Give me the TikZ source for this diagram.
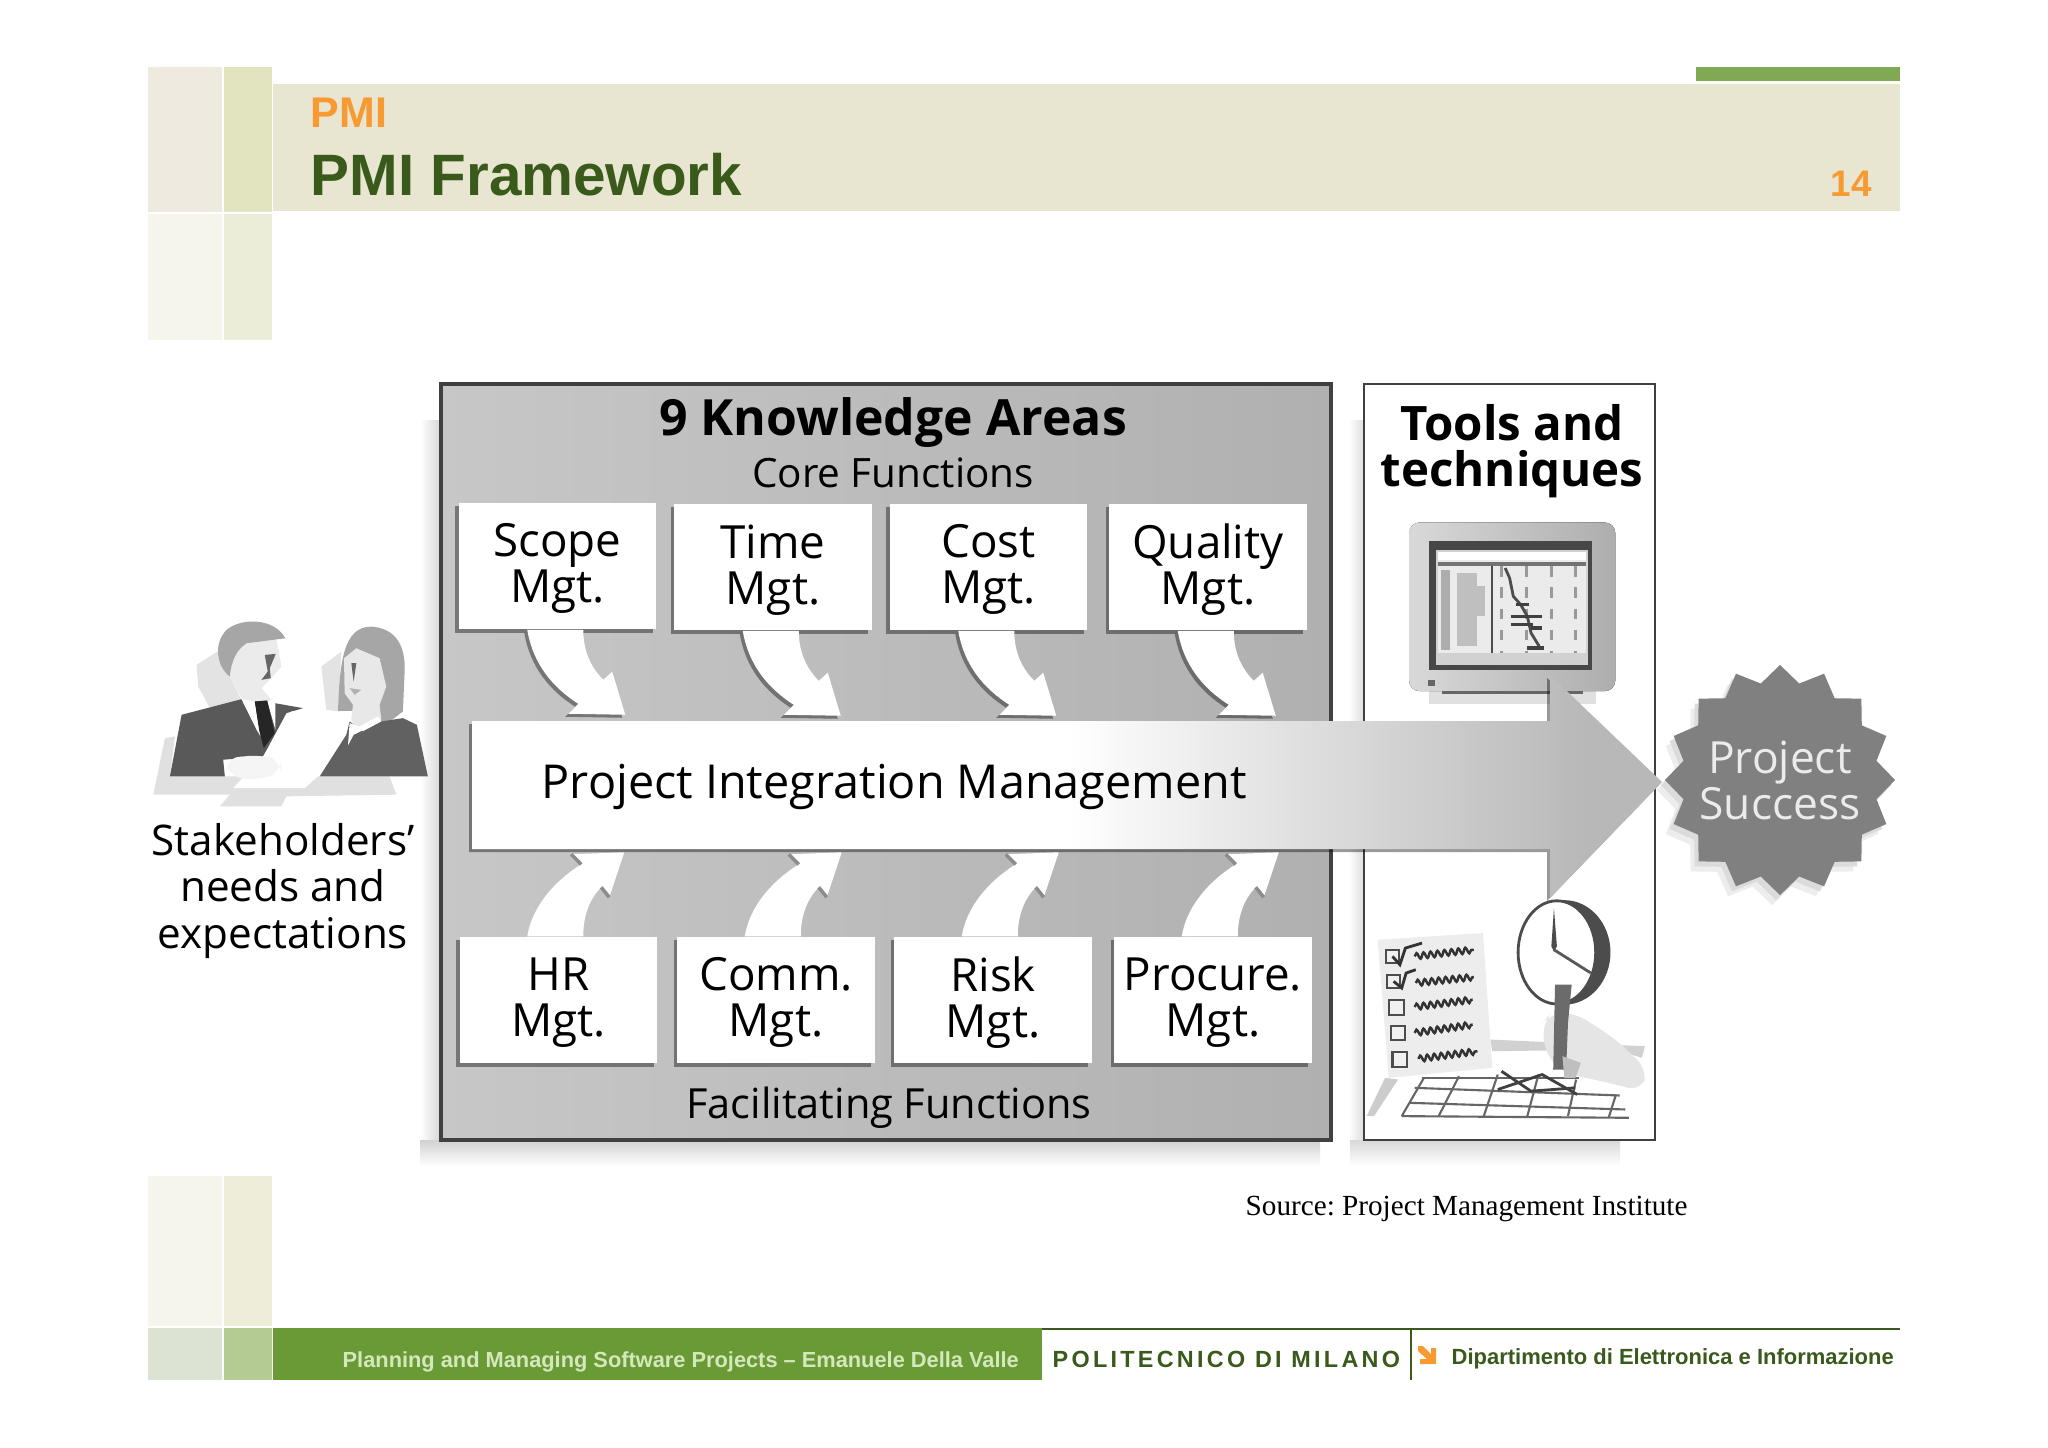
\documentclass[tikz,border=0pt]{standalone}
\usepackage{fontspec}
\setmainfont{Open Sans}
\newfontfamily\slidefont{Liberation Sans}
\newfontfamily\sourcefont{Liberation Serif}
\newfontfamily\polifont[LetterSpace=14]{Liberation Sans}
\usetikzlibrary{shapes.geometric,shadows,decorations.pathmorphing}
\definecolor{bandcolor}{HTML}{E8E5D1}
\definecolor{leafgreen}{HTML}{6A9A36}
\definecolor{titlegreen}{HTML}{3A5A1C}
\definecolor{titleorange}{HTML}{F79A32}
\definecolor{footertext}{HTML}{D4E8BC}
\pgfdeclarehorizontalshading{arrowfade}{100bp}{color(0bp)=(white); color(50bp)=(white); color(72bp)=(black!28); color(100bp)=(black!28)}
\tikzstyle{mgtbox} = [fill=white, align=center, inner sep=0pt, text depth=1.5pt, minimum width=1.97cm, minimum height=1.26cm, font=\fontsize{13pt}{13.1pt}\selectfont, drop shadow={shadow xshift=-0.035cm, shadow yshift=-0.035cm, opacity=0.4, fill=black}]
\tikzstyle{booktext} = [align=center, inner sep=0pt, font=\fontsize{12pt}{13.1pt}\selectfont]
\tikzstyle{headtext} = [align=center, inner sep=0pt, font=\bfseries\fontsize{14.2pt}{13.2pt}\selectfont]
\tikzstyle{flowshadow} = [drop shadow={shadow xshift=-0.03cm, shadow yshift=-0.03cm, opacity=0.4, fill=black}]
\tikzstyle{scribble} = [line width=0.7pt, black!80, decorate, decoration={snake, amplitude=0.03cm, segment length=0.07cm}]
\tikzstyle{tickbox} = [draw=black!70, line width=0.6pt, fill=black!6]
\tikzstyle{sealstar} = [star, star points=16, star point ratio=1.17, minimum size=2.3cm, inner sep=0pt]
\tikzset{
  pics/coreflow/.style={code={
    \fill[white,flowshadow] (69,0) .. controls (75,35) and (95,58) .. (120,74) -- (110,84) -- (167,85) -- (154,42) -- (145,50) .. controls (133,38) and (125,22) .. (125,0) -- cycle;
  }},
  pics/facilflow/.style={code={
    \fill[white] (68,0) .. controls (73,-30) and (95,-55) .. (122,-72) -- (112,-82) -- (165,-84) -- (150,-39) -- (142,-49) .. controls (130,-37) and (124,-20) .. (124,0) -- cycle;
    \draw[black!45,line width=1pt] (112,-82) -- (122,-72);
    \draw[black!45,line width=1pt] (150,-39) -- (142,-49);
  }}
}

\begin{document}
\frenchspacing
\begin{tikzpicture}[x=0.01cm,y=-0.01cm]
\useasboundingbox (0,0) rectangle (2048,1447);
\fill[white] (0,0) rectangle (2048,1447);
\fill[bandcolor] (273,84) rectangle (1900,211);
\fill[leafgreen!85] (1696,67) rectangle (1900,81);
\fill[color={rgb,255:red,238;green,234;blue,223}] (148,67) rectangle (222,212);
\fill[color={rgb,255:red,226;green,227;blue,191}] (224,67) rectangle (272,212);
\fill[color={rgb,255:red,246;green,245;blue,235}] (148,214) rectangle (222,340);
\fill[color={rgb,255:red,236;green,237;blue,216}] (224,214) rectangle (272,340);
\fill[color={rgb,255:red,246;green,245;blue,235}] (148,1176) rectangle (222,1326);
\fill[color={rgb,255:red,238;green,237;blue,217}] (224,1176) rectangle (272,1326);
\fill[color={rgb,255:red,220;green,227;blue,211}] (148,1328) rectangle (222,1380);
\fill[color={rgb,255:red,181;green,203;blue,148}] (224,1328) rectangle (272,1380);
\fill[leafgreen] (273,1328) rectangle (1042,1380);
\draw[titlegreen,line width=0.8pt] (1042,1329) -- (1900,1329);
\draw[titlegreen,line width=0.6pt] (1411,1329) -- (1411,1380);
\fill[titleorange] (1418,1346) -- (1423,1346) -- (1431,1354) -- (1431,1348) -- (1436,1348) -- (1436,1364) -- (1420,1364) -- (1420,1359) -- (1427,1359) -- (1418,1351) -- cycle;
\node[anchor=base west,inner sep=0pt,text=titleorange,font=\slidefont\bfseries\fontsize{12.2pt}{14pt}\selectfont] (section) at (310,127) {PMI};
\node[anchor=base west,inner sep=0pt,text=titlegreen,font=\slidefont\bfseries\fontsize{16.6pt}{18pt}\selectfont] (title) at (310,195) {PMI Framework};
\node[inner sep=0pt,text=titleorange,font=\slidefont\bfseries\fontsize{10.5pt}{12pt}\selectfont] (pagenum) at (1851,184) {14};
\node[anchor=west,inner sep=0pt,text=footertext,font=\slidefont\bfseries\fontsize{6.2pt}{8pt}\selectfont] (course) at (342,1362) {Planning and Managing Software Projects – Emanuele Della Valle};
\node[anchor=west,inner sep=0pt,text=titlegreen,font=\polifont\bfseries\fontsize{6.65pt}{8pt}\selectfont] (poli) at (1052,1359) {POLITECNICO DI MILANO};
\node[anchor=west,inner sep=0pt,text=titlegreen,font=\slidefont\bfseries\fontsize{6.25pt}{8pt}\selectfont] (dept) at (1451,1359) {Dipartimento di Elettronica e Informazione};
\node[anchor=west,inner sep=0pt,font=\sourcefont\fontsize{8.3pt}{10pt}\selectfont] (source) at (1245,1209) {Source: Project Management Institute};
\shade[left color=white,right color=black!16] (420,420) rectangle (441,1140);
\shade[top color=black!18,bottom color=white] (420,1140) rectangle (1320,1166);
\shade[left color=white,right color=black!13] (1348,420) rectangle (1364,1140);
\shade[top color=black!15,bottom color=white] (1350,1140) rectangle (1620,1166);
\draw[black!75,line width=1pt,left color=black!22,right color=black!31] (441,384) rectangle (1331,1140);
\draw[black!75,line width=0.8pt,fill=white] (1364,384) rectangle (1655,1140);
\node[headtext] (areas) at (893,423) {9 Knowledge Areas};
\node[booktext,font=\fontsize{11.5pt}{13pt}\selectfont] (core) at (893,473) {Core Functions};
\node[booktext,font=\fontsize{11.8pt}{13pt}\selectfont] (facil) at (889,1108) {Facilitating Functions};
\node[headtext,font=\bfseries\fontsize{13.5pt}{13.2pt}\selectfont] (tools) at (1512,451) {Tools and\\techniques};
\node[booktext] (stake) at (283,891) {Stakeholders'\\needs and\\expectations};
\node[mgtbox] (scope) at (557.5,566) {Scope\\Mgt.};
\node[mgtbox] (time) at (773,567) {Time\\Mgt.};
\node[mgtbox] (cost) at (988.5,567) {Cost\\Mgt.};
\node[mgtbox] (quality) at (1208,567) {Quality\\Mgt.};
\node[mgtbox] (hr) at (558.5,1000) {HR\\Mgt.};
\node[mgtbox] (comm) at (776,1000) {Comm.\\Mgt.};
\node[mgtbox] (risk) at (993,1000) {Risk\\Mgt.};
\node[mgtbox] (procure) at (1213,1000) {Procure.\\Mgt.};
\pic at (scope.south west) {coreflow};
\pic at (time.south west) {coreflow};
\pic at (cost.south west) {coreflow};
\pic at (quality.south west) {coreflow};
\pic at (hr.north west) {facilflow};
\pic at (comm.north west) {facilflow};
\pic at (risk.north west) {facilflow};
\pic at (procure.north west) {facilflow};
% people
\begin{scope}[shift={(130,580)},x=0.00333cm,y=-0.00333cm]
\fill[black!12] (70,645) -- (105,475) -- (135,470) -- (120,590) -- (780,590) -- (800,645) -- (470,650) -- (455,680) -- (270,680) -- (300,645) -- cycle;
\fill[black!11] (200,255) -- (262,215) -- (335,360) -- (240,385) -- (205,320) -- cycle;
\fill[black!11] (575,260) -- (635,215) -- (625,395) -- (590,390) -- cycle;
\fill[black!35] (625,395) .. controls (630,250) and (640,140) .. (725,140) .. controls (800,145) and (830,200) .. (825,280) -- (820,395) -- (755,445) -- (720,390) -- cycle;
\fill[black!9] (643,235) -- (680,205) -- (750,235) -- (770,320) -- (750,375) -- (755,420) -- (690,460) -- (665,420) -- (670,375) -- (645,340) -- cycle;
\fill[black!62] (570,590) -- (650,465) -- (660,425) -- (700,455) -- (755,425) -- (820,415) -- (862,435) -- (895,590) -- cycle;
\fill[white] (655,497) -- (672,465) -- (755,425) -- (745,410) -- (690,440) -- (660,430) -- cycle;
\fill[black!60] (665,250) -- (680,250) -- (672,305) -- cycle;
\fill[black!30] (660,325) -- (695,330) -- (675,345) -- cycle;
\fill[black!8] (300,290) -- (320,170) -- (440,180) -- (455,260) -- (420,300) -- (395,325) -- (430,365) -- (380,375) -- (335,355) -- cycle;
\fill[black!35] (300,290) .. controls (260,260) and (250,190) .. (290,150) .. controls (330,115) and (430,110) .. (467,175) -- (350,190) .. controls (320,210) and (305,240) .. (300,290) -- cycle;
\fill[black!60] (405,225) -- (438,222) -- (420,265) -- (423,295) -- (395,300) -- (414,275) -- cycle;
\fill[black!65] (120,590) -- (155,405) -- (335,358) -- (385,460) -- (375,365) -- (420,362) -- (435,370) -- (520,385) -- (470,400) -- (400,530) -- (280,540) -- (285,590) -- cycle;
\fill[white] (335,358) -- (375,365) -- (392,470) -- cycle;
\fill[white] (412,362) -- (437,360) -- (437,450) -- cycle;
\fill[black!85] (375,365) -- (412,362) -- (435,460) -- (402,505) -- (388,450) -- cycle;
\fill[white] (310,625) -- (525,625) -- (570,585) -- (660,395) -- (485,395) -- (400,530) -- cycle;
\fill[black!4,rounded corners=4pt] (285,535) -- (400,525) -- (455,545) -- (455,575) -- (400,600) -- (300,595) -- cycle;
\end{scope}
% monitor
\begin{scope}[shift={(1350,370)},x=0.0037cm,y=-0.00333cm]
\fill[black!12] (215,965) rectangle (665,1005);
\draw[black!60,line width=1pt] (250,968) -- (630,968);
\fill[rounded corners=3pt,left color=black!15,right color=black!32] (160,458) rectangle (718,965);
\fill[black!72] (215,515) rectangle (655,900);
\fill[black!18] (232,540) rectangle (645,885);
\fill[white] (238,548) rectangle (640,572);
\fill[black!8] (238,572) rectangle (640,850);
\fill[black!55] (238,578) rectangle (640,590);
\fill[black!60] (212,930) rectangle (230,950);
\draw[black!70,line width=0.5pt] (385,590) -- (385,850);
\draw[black!40,line width=0.8pt,dashed] (410,590) -- (410,850);
\draw[black!40,line width=0.8pt,dashed] (477,590) -- (477,850);
\draw[black!40,line width=0.8pt,dashed] (545,590) -- (545,850);
\draw[black!40,line width=0.8pt,dashed] (610,590) -- (610,850);
\fill[black!32] (245,600) rectangle (270,840);
\fill[black!25] (290,610) rectangle (345,830);
\fill[black!25] (345,650) rectangle (365,740);
\draw[black!70,line width=0.8pt] (420,595) -- (432,625) -- (442,680) -- (462,705) -- (480,740) -- (490,790) -- (512,830);
\draw[black!75,line width=1pt] (450,705) -- (485,705);
\draw[black!75,line width=1pt] (435,740) -- (520,740);
\draw[black!75,line width=1pt] (435,765) -- (495,765);
\draw[black!75,line width=1pt] (490,775) -- (520,775);
\draw[black!75,line width=1pt] (480,835) -- (525,835);
\end{scope}
% check list and clock
\begin{scope}[shift={(1350,770)},x=0.0037cm,y=-0.00333cm]
\fill[black!18] (380,810) -- (798,830) -- (790,865) -- (720,840) -- (385,845) -- cycle;
\fill[black!20] (45,1040) -- (95,925) -- (130,930) -- (65,1040) -- cycle;
\fill[black!7] (75,510) -- (360,490) -- (385,895) -- (105,925) -- cycle;
\draw[tickbox] (97,540) rectangle (133,580);
\draw[tickbox] (100,615) rectangle (135,655);
\draw[tickbox] (105,692) rectangle (145,735);
\draw[tickbox] (110,768) rectangle (150,810);
\draw[tickbox] (115,848) rectangle (155,892);
\draw[black!80,line width=0.8pt] (115,560) -- (135,585) -- (150,535) -- (195,520);
\draw[black!80,line width=0.8pt] (118,635) -- (140,655) -- (152,610) -- (178,600);
\draw[scribble] (175,560) -- (335,540);
\draw[scribble] (178,640) -- (335,622);
\draw[scribble] (175,712) -- (332,690);
\draw[scribble] (175,790) -- (332,765);
\draw[scribble] (185,868) -- (345,845);
\draw[black!60,line width=0.6pt] (195,925) -- (620,925);
\draw[black!60,line width=0.6pt] (175,955) -- (730,978);
\draw[black!60,line width=0.6pt] (160,1000) -- (745,1020);
\draw[black!60,line width=0.6pt] (140,1040) -- (755,1045);
\draw[black!60,line width=0.6pt] (140,1040) -- (200,925);
\draw[black!60,line width=0.6pt] (240,1040) -- (295,920);
\draw[black!60,line width=0.6pt] (362,1040) -- (400,915);
\draw[black!60,line width=0.6pt] (480,1040) -- (510,915);
\draw[black!60,line width=0.6pt] (590,1040) -- (612,930);
\draw[black!60,line width=0.6pt] (700,1045) -- (720,975);
\draw[black!75,line width=0.8pt] (410,905) -- (490,965) -- (610,955);
\draw[black!75,line width=0.8pt] (400,960) -- (520,915) -- (615,975);
\fill[black!70] (580,548) ellipse (125 and 157);
\draw[black!70,line width=0.8pt,fill=white] (560,548) ellipse (105 and 155);
\fill[black!70] (545,530) -- (552,415) -- (560,530) -- (552,545) -- cycle;
\draw[black!65,line width=0.8pt] (552,540) -- (652,610);
\fill[black!10,rounded corners=4pt] (520,760) -- (545,730) -- (610,730) -- (720,810) -- (805,900) -- (790,965) -- (700,940) -- (640,925) -- (590,915) -- (530,860) -- cycle;
\fill[black!58] (555,645) -- (600,645) -- (590,760) -- (585,900) -- (550,900) -- cycle;
\fill[black!25] (575,860) -- (625,880) -- (610,925) -- (580,925) -- cycle;
\end{scope}
% integration arrow
\shade[shading=arrowfade,flowshadow] (472,721) -- (1550,721) -- (1550,675) -- (1662,782) -- (1550,898) -- (1550,849) -- (472,849) -- cycle;
\node[booktext,anchor=west,font=\fontsize{13.3pt}{14pt}\selectfont] (pim) at (541,787) {Project Integration Management};
% success star
\node[sealstar,fill=black!7] (sealhalo) at (1772,790) {};
\node[sealstar,fill=black!14] (sealshade) at (1776,785) {};
\node[sealstar,fill=black!50] (success) at (1780,780) {};
\node[align=center,inner sep=0pt,text=black!8,font=\fontsize{12.6pt}{13.1pt}\selectfont] (successtext) at (success) {Project\\Success};
\end{tikzpicture}
\end{document}
